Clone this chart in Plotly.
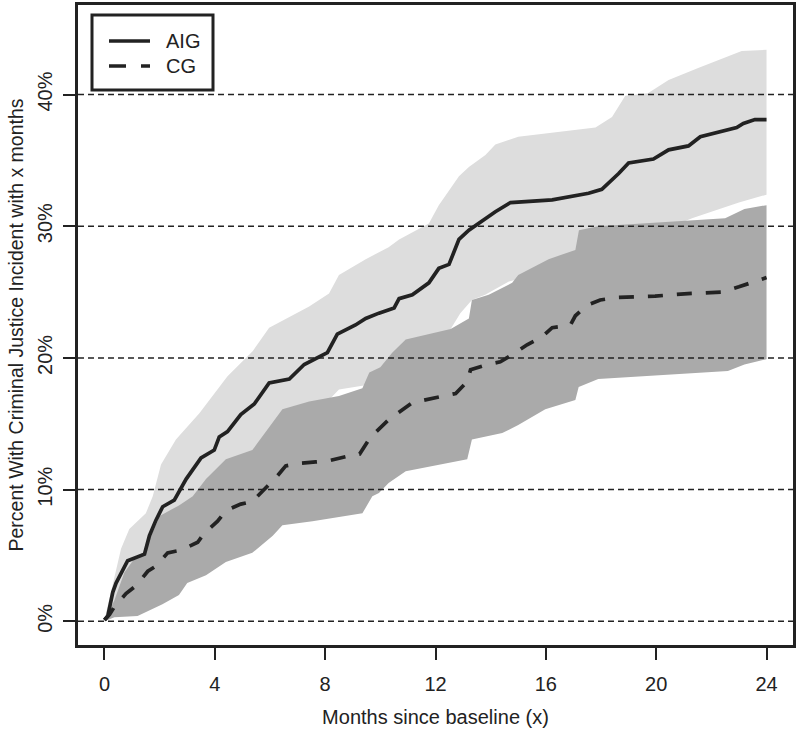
import plotly.graph_objects as go

# ---------------- data (months, percent) ----------------
aig_months = [0.0, 0.12, 0.3, 0.42, 0.84, 1.09, 1.45, 1.63, 1.87, 2.11, 2.53, 2.96, 3.5, 3.98,
              4.16, 4.46, 4.94, 5.43, 5.97, 6.7, 7.24, 8.08, 8.44, 9.1, 9.47, 9.95, 10.5,
              10.68, 11.16, 11.76, 12.12, 12.49, 12.61, 12.85, 13.21, 13.69, 14.17, 14.72,
              16.23, 17.55, 18.03, 18.64, 19.0, 19.9, 20.45, 21.17, 21.6, 22.92, 23.16, 23.58, 24.0]
aig_pct = [0.1, 0.4, 2.2, 2.9, 4.6, 4.8, 5.1, 6.5, 7.7, 8.7, 9.2, 10.8, 12.4, 13.0,
           14.0, 14.4, 15.7, 16.5, 18.1, 18.4, 19.5, 20.4, 21.8, 22.5, 23.0, 23.4, 23.8,
           24.5, 24.8, 25.7, 26.8, 27.1, 27.8, 29.0, 29.7, 30.4, 31.1, 31.8,
           32.0, 32.5, 32.8, 34.0, 34.8, 35.1, 35.8, 36.1, 36.8, 37.5, 37.8, 38.1, 38.1]

aig_upper_months = [0.0, 0.06, 0.3, 0.6, 0.9, 1.5, 1.75, 2.05, 2.59, 3.44, 4.46, 5.37, 5.97,
                    7.42, 8.14, 8.5, 9.47, 10.3, 10.68, 11.76, 12.12, 12.85, 13.21, 13.81,
                    14.17, 15.0, 17.8, 18.4, 18.88, 19.7, 20.45, 21.5, 23.1, 24.0]
aig_upper = [0.0, 0.66, 2.8, 5.5, 7.0, 8.2, 9.5, 11.9, 13.8, 15.8, 18.6, 20.5, 22.3,
             23.9, 24.9, 26.3, 27.5, 28.4, 29.0, 30.2, 31.6, 33.8, 34.5, 35.4,
             36.2, 36.8, 37.5, 38.3, 39.9, 40.1, 41.1, 42.0, 43.3, 43.4]

aig_lower_months = [0.0, 0.5, 1.0, 2.0, 3.0, 4.0, 5.0, 6.0, 7.0, 8.0, 8.5, 9.4, 10.0, 11.0,
                    12.0, 12.55, 12.9, 13.32, 13.8, 14.66, 16.0, 17.0, 18.0, 19.0, 20.0,
                    21.3, 22.0, 23.0, 24.0]
aig_lower = [0.0, 1.2, 2.5, 5.0, 7.5, 9.5, 11.5, 13.5, 15.0, 16.5, 17.6, 17.9, 18.5, 20.0,
             21.5, 22.2, 23.4, 24.4, 24.8, 25.8, 26.5, 27.0, 27.8, 28.6, 29.5,
             30.6, 31.1, 31.8, 32.4]

cg_months = [0.0, 0.18, 0.36, 0.78, 1.14, 1.57, 1.87, 2.29, 2.77, 3.38, 3.62, 4.1, 4.4, 4.94,
             5.36, 5.85, 6.21, 6.57, 7.06, 7.66, 8.14, 8.74, 9.25, 9.65, 9.95, 10.3,
             11.16, 12.73, 13.15, 13.27, 13.87, 14.35, 14.9, 15.32, 15.86, 16.23, 16.89,
             17.07, 17.49, 17.97, 18.64, 19.96, 21.29, 22.38, 23.0, 23.53, 24.0]
cg_pct = [0.1, 0.5, 1.1, 2.1, 2.7, 3.8, 4.2, 5.2, 5.4, 6.0, 6.7, 7.6, 8.4, 8.9,
          9.1, 10.1, 10.9, 11.8, 12.0, 12.1, 12.2, 12.5, 12.7, 14.0, 14.6, 15.3,
          16.6, 17.3, 18.2, 19.1, 19.5, 19.7, 20.4, 21.0, 21.6, 22.3, 22.5,
          23.2, 24.0, 24.4, 24.6, 24.7, 24.9, 25.0, 25.4, 25.8, 26.1]

cg_upper_months = [0.0, 0.36, 0.72, 1.1, 1.45, 2.0, 2.7, 3.2, 3.68, 4.4, 5.36, 6.45, 7.42,
                   8.5, 9.35, 9.6, 10.0, 10.43, 10.92, 12.55, 13.21, 13.32, 13.93, 14.78,
                   15.0, 16.1, 17.07, 17.2, 17.9, 22.5, 23.2, 24.0]
cg_upper = [0.0, 1.6, 3.7, 4.8, 5.3, 8.0, 8.8, 9.5, 10.8, 12.3, 13.0, 16.1, 16.7,
            17.1, 17.7, 18.9, 19.3, 20.4, 21.4, 22.2, 23.0, 24.4, 24.8, 25.7,
            26.3, 27.5, 28.2, 29.7, 30.0, 30.6, 31.3, 31.6]

cg_lower_months = [0.0, 0.36, 1.2, 2.1, 2.7, 3.0, 3.68, 4.4, 5.36, 6.1, 6.45, 7.54, 9.35,
                   9.71, 9.95, 10.3, 10.92, 12.36, 13.15, 13.32, 14.42, 15.0, 15.98, 17.07,
                   17.19, 17.9, 22.6, 23.2, 24.0]
cg_lower = [0.0, 0.3, 0.4, 1.3, 2.0, 2.9, 3.5, 4.5, 5.2, 6.5, 7.3, 7.6, 8.2,
            9.5, 9.75, 10.5, 11.4, 12.0, 12.3, 13.8, 14.3, 14.9, 16.1, 16.8,
            17.8, 18.4, 19.0, 19.5, 19.9]

x_ticks = [0, 4, 8, 12, 16, 20, 24]
y_ticks = [0, 10, 20, 30, 40]
y_tick_labels = ["0%", "10%", "20%", "30%", "40%"]
x_range = [-0.96, 24.96]
y_range = [-1.8, 46.8]

series_names = ["AIG", "CG"]

# ---------------- styling ----------------
INK = "#222222"
FONT = "Liberation Sans, Arial, sans-serif"
LIGHT = "#dddddd"
DARK = "#aaaaaa"
SOLID = None
DASH = "15px,14px"

fig = go.Figure()

# confidence bands
fig.add_trace(go.Scatter(
    x=aig_upper_months + aig_lower_months[::-1],
    y=aig_upper + aig_lower[::-1],
    fill="toself", fillcolor=LIGHT, line=dict(width=0, color=LIGHT),
    mode="lines", showlegend=False, hoverinfo="skip"))
fig.add_trace(go.Scatter(
    x=cg_upper_months + cg_lower_months[::-1],
    y=cg_upper + cg_lower[::-1],
    fill="toself", fillcolor=DARK, line=dict(width=0, color=DARK),
    mode="lines", showlegend=False, hoverinfo="skip"))

# dashed horizontal reference lines at the y ticks (drawn over the bands)
for v in y_ticks:
    fig.add_trace(go.Scatter(
        x=x_range, y=[v, v], mode="lines",
        line=dict(color=INK, width=1.5, dash="6px,4px"),
        showlegend=False, hoverinfo="skip"))

# curves
fig.add_trace(go.Scatter(
    x=aig_months, y=aig_pct, mode="lines", name=series_names[0], showlegend=False,
    line=dict(color=INK, width=3.7)))
fig.add_trace(go.Scatter(
    x=cg_months, y=cg_pct, mode="lines", name=series_names[1], showlegend=False,
    line=dict(color=INK, width=3.7, dash=DASH)))

# ---- legend box (drawn in paper coordinates) ----
PLOT_L, PLOT_R, PLOT_T, PLOT_B = 78, 793, 5, 645


def px_to_paper(xp, yp):
    return ((xp - PLOT_L) / (PLOT_R - PLOT_L), (PLOT_B - yp) / (PLOT_B - PLOT_T))


shapes = []
bx0, by0 = px_to_paper(92, 15)
bx1, by1 = px_to_paper(213, 90)
shapes.append(dict(type="rect", xref="paper", yref="paper", x0=bx0, x1=bx1, y0=by1, y1=by0,
                   line=dict(color=INK, width=3), fillcolor="white", layer="above"))
annotations = []
for i, (name, dash) in enumerate(zip(series_names, [SOLID, DASH])):
    ypx = 41 + 25 * i
    lx0, ly = px_to_paper(109, ypx)
    lx1, _ = px_to_paper(150, ypx)
    ln = dict(color=INK, width=3.7)
    if dash:
        ln["dash"] = "17px,15px"
    shapes.append(dict(type="line", xref="paper", yref="paper", x0=lx0, x1=lx1, y0=ly, y1=ly,
                       line=ln, layer="above"))
    tx, _ = px_to_paper(164, ypx)
    annotations.append(dict(text=name, xref="paper", yref="paper", x=tx, y=ly,
                            xanchor="left", yanchor="middle", showarrow=False,
                            font=dict(family=FONT, size=20, color=INK)))

axis_common = dict(
    showline=True, mirror=True, linewidth=3, linecolor=INK,
    ticks="outside", ticklen=12, tickwidth=2, tickcolor=INK,
    showgrid=False, zeroline=False,
    tickfont=dict(family=FONT, size=20, color=INK),
)

fig.update_layout(
    width=800, height=729,
    margin=dict(l=PLOT_L, r=800 - PLOT_R, t=PLOT_T, b=729 - PLOT_B, autoexpand=False),
    paper_bgcolor="white", plot_bgcolor="white",
    font=dict(family=FONT, size=20, color=INK),
    xaxis=dict(range=x_range, tickmode="array", tickvals=x_ticks, automargin=False,
               ticklabelstandoff=7,
               title=dict(text="Months since baseline (x)",
                          font=dict(family=FONT, size=20, color=INK), standoff=16),
               **axis_common),
    yaxis=dict(range=y_range, tickmode="array", tickvals=y_ticks, ticktext=y_tick_labels,
               tickangle=-90, automargin=False, ticklabelstandoff=3,
               title=dict(text="Percent With Criminal Justice Incident with x months",
                          font=dict(family=FONT, size=19.5, color=INK), standoff=6),
               **axis_common),
    shapes=shapes,
    annotations=annotations,
    showlegend=False,
)

fig.write_html("out.html", config={"displayModeBar": False},
               post_script="document.body.style.margin='0';")
